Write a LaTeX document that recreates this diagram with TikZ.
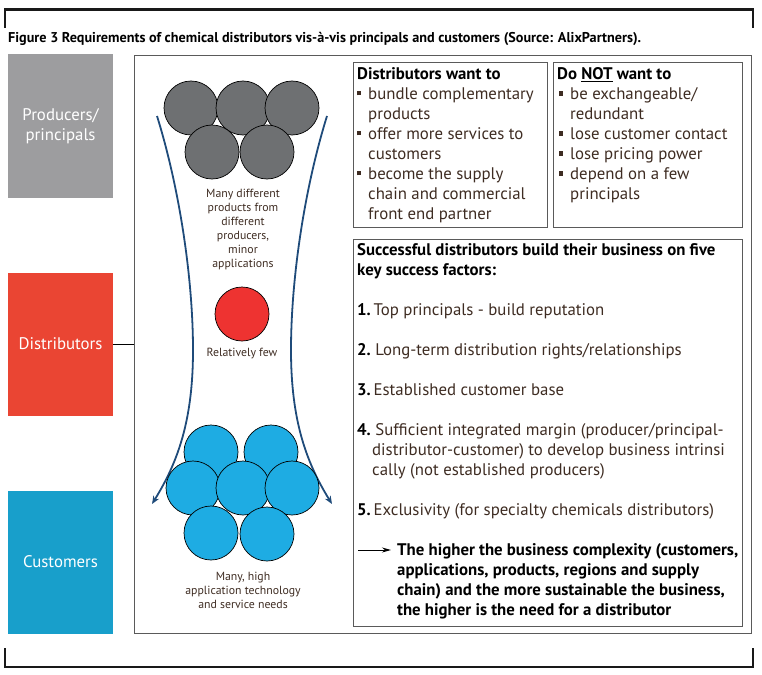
\documentclass[tikz,border=0pt]{standalone}
\usepackage{fontspec}
\setmainfont{PT Sans}
\usetikzlibrary{arrows.meta}
\definecolor{txt}{HTML}{3E2C22}
\definecolor{boxgray}{HTML}{9D9D9F}
\definecolor{boxred}{HTML}{EA4533}
\definecolor{boxblue}{HTML}{189FCB}
\definecolor{cgray}{HTML}{6E7072}
\definecolor{cred}{HTML}{EE3331}
\definecolor{cblue}{HTML}{1EACE3}
\definecolor{funnel}{HTML}{1F4B7A}
\definecolor{frame}{HTML}{5A5A5A}
\newcommand{\sqb}{\rule[0.22em]{0.25em}{0.25em}}
\newcommand{\bl}[1]{\makebox[11pt][l]{\sqb}#1}
\newcommand{\ind}[1]{\hspace*{11pt}#1}
\begin{document}
\begin{tikzpicture}[x=1pt,y=-1pt,
  sidebox/.style={minimum width=105pt,minimum height=143pt,inner sep=0pt,text=white,
    font=\fontsize{16.8}{20}\selectfont,align=center},
  panel/.style={draw=frame,line width=0.9pt},
  circ/.style={circle,draw=black,line width=0.7pt,minimum size=54pt,inner sep=0pt},
  small/.style={font=\fontsize{11.8}{14}\selectfont,text=txt,align=center},
  body/.style={anchor=north west,inner sep=0pt,align=left,text=txt,
    font=\fontsize{16.8}{20}\selectfont},
  funline/.style={draw=funnel,line width=1.8pt,-{Stealth[length=8pt,width=6.5pt]}},
  bracket/.style={draw=black!90,line width=2.6pt}
]
\useasboundingbox (0,0) rectangle (762,674);
% brackets
\coordinate (t1) at (5,28); \coordinate (t2) at (5,9.5); \coordinate (t3) at (753,9.5); \coordinate (t4) at (753,28);
\draw[bracket] (t1) -- (t2) -- (t3) -- (t4);
\coordinate (b1) at (5,648); \coordinate (b2) at (5,667); \coordinate (b3) at (753,667); \coordinate (b4) at (753,648);
\draw[bracket] (b1) -- (b2) -- (b3) -- (b4);
% title
\node[anchor=base west,inner sep=0pt,font=\fontsize{14.2}{16}\selectfont\bfseries] (title) at (8,43)
 {Figure 3 Requirements of chemical distributors vis-à-vis principals and customers (Source: AlixPartners).};
% side boxes
\node[sidebox,fill=boxgray] (prod) at (60.5,126) {Producers/\\principals};
\node[sidebox,fill=boxred] (dist) at (60.5,344) {Distributors};
\node[sidebox,fill=boxblue] (cust) at (60.5,562) {Customers};
% big panel
\node[panel,minimum width=617pt,minimum height=578pt,inner sep=0pt] (big) at (442.5,344) {};
\draw[black,line width=0.9pt] (dist.east) -- (big.west);
% inner boxes
\node[panel,minimum width=194pt,minimum height=165pt,inner sep=0pt] (want) at (450,144.5) {};
\node[panel,minimum width=189pt,minimum height=165pt,inner sep=0pt] (not) at (647.5,144.5) {};
\node[panel,minimum width=389pt,minimum height=387pt,inner sep=0pt] (succ) at (547.5,432.5) {};
% want text
\node[body] (wanttxt) at (357,67) {\textcolor{black}{\bfseries Distributors want to}\\
\bl{bundle complementary}\\
\ind{products}\\
\bl{offer more services to}\\
\ind{customers}\\
\bl{become the supply}\\
\ind{chain and commercial}\\
\ind{front end partner}};
\node[body] (nottxt) at (557,67) {\textcolor{black}{\bfseries Do \underline{NOT} want to}\\
\hspace*{2pt}\bl{be exchangeable/}\\
\hspace*{2pt}\ind{redundant}\\
\hspace*{2pt}\bl{lose customer contact}\\
\hspace*{2pt}\bl{lose pricing power}\\
\hspace*{2pt}\bl{depend on a few}\\
\hspace*{2pt}\ind{principals}};
% success text
\node[body] (succtxt) at (357,243) {\textcolor{black}{\bfseries Successful distributors build their business on five}\\
\textcolor{black}{\bfseries key success factors:}\\[20pt]
\textcolor{black}{\bfseries 1.}\,Top principals - build reputation\\[20pt]
\textcolor{black}{\bfseries 2.}\ Long-term distribution rights/relationships\\[20pt]
\textcolor{black}{\bfseries 3.}\,Established customer base\\[20pt]
\textcolor{black}{\bfseries 4.}\ Sufficient integrated margin (producer/principal-\\
\hspace*{15pt}distributor-customer) to develop business intrinsi\\
\hspace*{15pt}cally (not established producers)\\[20pt]
\textcolor{black}{\bfseries 5.}\,Exclusivity (for specialty chemicals distributors)\\[20pt]
\textcolor{black}{\bfseries\hspace*{40pt}The higher the business complexity (customers,}\\
\textcolor{black}{\bfseries\hspace*{40pt}applications, products, regions and supply}\\
\textcolor{black}{\bfseries\hspace*{40pt}chain) and the more sustainable the business,}\\
\textcolor{black}{\bfseries\hspace*{40pt}the higher is the need for a distributor}};
\coordinate (ar1) at (358,550); \coordinate (ar2) at (391,550);
\draw[black,line width=1pt,-{Stealth[length=9pt,width=5pt]}] (ar1) -- (ar2);
% funnel
\coordinate (lt) at (157,116); \coordinate (lm) at (193,350); \coordinate (lb) at (152,504);
\coordinate (rt) at (327,116); \coordinate (rm) at (291,350); \coordinate (rb) at (332,504);
\draw[funline] (lt) .. controls (180,190) and (193,280) .. (lm) .. controls (193,420) and (178,462) .. (lb);
\draw[funline] (rt) .. controls (304,190) and (291,280) .. (rm) .. controls (291,420) and (306,462) .. (rb);
% gray circles
\node[circ,fill=cgray] (g1) at (191,108) {};
\node[circ,fill=cgray] (g2) at (243,108) {};
\node[circ,fill=cgray] (g3) at (292,108) {};
\node[circ,fill=cgray] (g4) at (212,152) {};
\node[circ,fill=cgray] (g5) at (267,152) {};
\node[small] (gtxt) at (243,230) {Many different\\products from\\different\\producers,\\minor\\applications};
% red
\node[circ,fill=cred] (r1) at (242,314) {};
\node[small] (rtxt) at (242,354) {Relatively few};
% blue circles
\node[circ,fill=cblue] (c1) at (211,452) {};
\node[circ,fill=cblue] (c2) at (271,452) {};
\node[circ,fill=cblue] (c3) at (193,488) {};
\node[circ,fill=cblue] (c4) at (243,488) {};
\node[circ,fill=cblue] (c5) at (292,488) {};
\node[circ,fill=cblue] (c6) at (211,533) {};
\node[circ,fill=cblue] (c7) at (267,534) {};
\node[small] (ctxt) at (243,590) {Many, high\\application technology\\and service needs};
\end{tikzpicture}
\end{document}
